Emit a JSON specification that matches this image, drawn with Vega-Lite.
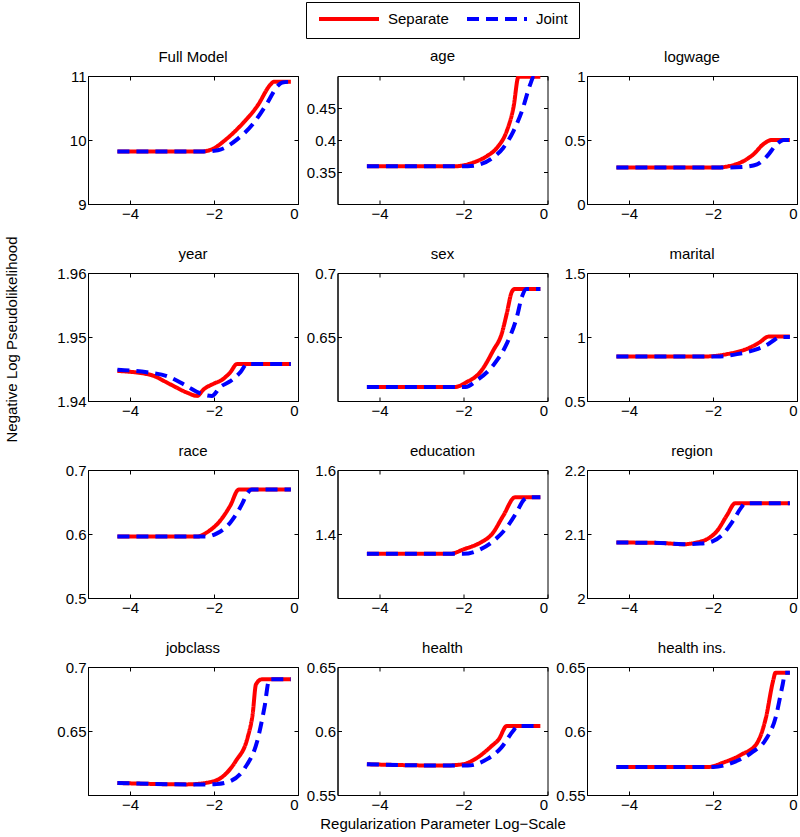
{
"$schema": "https://vega.github.io/schema/vega-lite/v6.json",
"padding": {"left": 5, "top": 1, "right": 2, "bottom": 2},
"title": {"text": "Negative Log Pseudolikelihood", "orient": "left", "anchor": "middle", "offset": 36, "dx": 77, "fontSize": 15, "fontWeight": "normal", "font": "Liberation Sans", "color": "black"},
"datasets": {"d": [
{"p":"Full Model","s":"Separate","x":-4.3,"y":9.82},{"p":"Full Model","s":"Separate","x":-3,"y":9.82},{"p":"Full Model","s":"Separate","x":-2.3,"y":9.82},{"p":"Full Model","s":"Separate","x":-2.0,"y":9.87},{"p":"Full Model","s":"Separate","x":-1.77,"y":9.98},{"p":"Full Model","s":"Separate","x":-1.33,"y":10.25},{"p":"Full Model","s":"Separate","x":-0.97,"y":10.53},{"p":"Full Model","s":"Separate","x":-0.65,"y":10.87},{"p":"Full Model","s":"Separate","x":-0.58,"y":10.91},{"p":"Full Model","s":"Separate","x":-0.17,"y":10.91},
{"p":"age","s":"Separate","x":-4.3,"y":0.359},{"p":"age","s":"Separate","x":-2.2,"y":0.359},{"p":"age","s":"Separate","x":-1.76,"y":0.365},{"p":"age","s":"Separate","x":-1.44,"y":0.375},{"p":"age","s":"Separate","x":-1.2,"y":0.388},{"p":"age","s":"Separate","x":-0.97,"y":0.414},{"p":"age","s":"Separate","x":-0.81,"y":0.451},{"p":"age","s":"Separate","x":-0.69,"y":0.499},{"p":"age","s":"Separate","x":-0.17,"y":0.499},
{"p":"logwage","s":"Separate","x":-4.3,"y":0.285},{"p":"logwage","s":"Separate","x":-1.9,"y":0.285},{"p":"logwage","s":"Separate","x":-1.59,"y":0.298},{"p":"logwage","s":"Separate","x":-1.27,"y":0.336},{"p":"logwage","s":"Separate","x":-1.03,"y":0.39},{"p":"logwage","s":"Separate","x":-0.8,"y":0.468},{"p":"logwage","s":"Separate","x":-0.6,"y":0.5},{"p":"logwage","s":"Separate","x":-0.17,"y":0.5},
{"p":"year","s":"Separate","x":-4.3,"y":1.9447},{"p":"year","s":"Separate","x":-3.52,"y":1.9441},{"p":"year","s":"Separate","x":-3.04,"y":1.9426},{"p":"year","s":"Separate","x":-2.64,"y":1.9413},{"p":"year","s":"Separate","x":-2.4,"y":1.9408},{"p":"year","s":"Separate","x":-2.25,"y":1.9418},{"p":"year","s":"Separate","x":-2.01,"y":1.9427},{"p":"year","s":"Separate","x":-1.81,"y":1.9433},{"p":"year","s":"Separate","x":-1.61,"y":1.9445},{"p":"year","s":"Separate","x":-1.45,"y":1.9458},{"p":"year","s":"Separate","x":-0.17,"y":1.9458},
{"p":"sex","s":"Separate","x":-4.3,"y":0.611},{"p":"sex","s":"Separate","x":-2.2,"y":0.611},{"p":"sex","s":"Separate","x":-1.92,"y":0.6148},{"p":"sex","s":"Separate","x":-1.6,"y":0.6226},{"p":"sex","s":"Separate","x":-1.29,"y":0.6396},{"p":"sex","s":"Separate","x":-1.09,"y":0.6526},{"p":"sex","s":"Separate","x":-0.97,"y":0.6683},{"p":"sex","s":"Separate","x":-0.85,"y":0.6852},{"p":"sex","s":"Separate","x":-0.78,"y":0.6875},{"p":"sex","s":"Separate","x":-0.17,"y":0.6875},
{"p":"marital","s":"Separate","x":-4.3,"y":0.848},{"p":"marital","s":"Separate","x":-2.2,"y":0.848},{"p":"marital","s":"Separate","x":-1.67,"y":0.866},{"p":"marital","s":"Separate","x":-1.11,"y":0.919},{"p":"marital","s":"Separate","x":-0.87,"y":0.963},{"p":"marital","s":"Separate","x":-0.68,"y":1.003},{"p":"marital","s":"Separate","x":-0.17,"y":1.003},
{"p":"race","s":"Separate","x":-4.3,"y":0.596},{"p":"race","s":"Separate","x":-2.4,"y":0.596},{"p":"race","s":"Separate","x":-2.17,"y":0.6025},{"p":"race","s":"Separate","x":-1.85,"y":0.621},{"p":"race","s":"Separate","x":-1.61,"y":0.6447},{"p":"race","s":"Separate","x":-1.41,"y":0.6695},{"p":"race","s":"Separate","x":-0.17,"y":0.6695},
{"p":"education","s":"Separate","x":-4.3,"y":1.338},{"p":"education","s":"Separate","x":-2.32,"y":1.338},{"p":"education","s":"Separate","x":-2.0,"y":1.352},{"p":"education","s":"Separate","x":-1.6,"y":1.373},{"p":"education","s":"Separate","x":-1.32,"y":1.4},{"p":"education","s":"Separate","x":-1.05,"y":1.458},{"p":"education","s":"Separate","x":-0.77,"y":1.515},{"p":"education","s":"Separate","x":-0.17,"y":1.515},
{"p":"region","s":"Separate","x":-4.3,"y":2.0867},{"p":"region","s":"Separate","x":-3.25,"y":2.086},{"p":"region","s":"Separate","x":-2.71,"y":2.084},{"p":"region","s":"Separate","x":-2.39,"y":2.0867},{"p":"region","s":"Separate","x":-2.14,"y":2.092},{"p":"region","s":"Separate","x":-1.9,"y":2.105},{"p":"region","s":"Separate","x":-1.67,"y":2.129},{"p":"region","s":"Separate","x":-1.47,"y":2.148},{"p":"region","s":"Separate","x":-0.17,"y":2.148},
{"p":"jobclass","s":"Separate","x":-4.3,"y":0.6094},{"p":"jobclass","s":"Separate","x":-2.63,"y":0.6083},{"p":"jobclass","s":"Separate","x":-2.17,"y":0.6096},{"p":"jobclass","s":"Separate","x":-1.83,"y":0.6135},{"p":"jobclass","s":"Separate","x":-1.48,"y":0.6266},{"p":"jobclass","s":"Separate","x":-1.2,"y":0.6448},{"p":"jobclass","s":"Separate","x":-1.08,"y":0.663},{"p":"jobclass","s":"Separate","x":-1.0,"y":0.6865},{"p":"jobclass","s":"Separate","x":-0.86,"y":0.6904},{"p":"jobclass","s":"Separate","x":-0.17,"y":0.6904},
{"p":"health","s":"Separate","x":-4.3,"y":0.574},{"p":"health","s":"Separate","x":-2.47,"y":0.573},{"p":"health","s":"Separate","x":-2.02,"y":0.574},{"p":"health","s":"Separate","x":-1.67,"y":0.5792},{"p":"health","s":"Separate","x":-1.33,"y":0.5883},{"p":"health","s":"Separate","x":-1.16,"y":0.5935},{"p":"health","s":"Separate","x":-0.97,"y":0.6039},{"p":"health","s":"Separate","x":-0.17,"y":0.6039},
{"p":"health ins.","s":"Separate","x":-4.3,"y":0.5719},{"p":"health ins.","s":"Separate","x":-2.1,"y":0.5719},{"p":"health ins.","s":"Separate","x":-1.76,"y":0.5753},{"p":"health ins.","s":"Separate","x":-1.31,"y":0.5818},{"p":"health ins.","s":"Separate","x":-0.97,"y":0.5896},{"p":"health ins.","s":"Separate","x":-0.74,"y":0.6104},{"p":"health ins.","s":"Separate","x":-0.57,"y":0.639},{"p":"health ins.","s":"Separate","x":-0.51,"y":0.6456},{"p":"health ins.","s":"Separate","x":-0.17,"y":0.6456},
{"p":"Full Model","s":"Joint","x":-4.3,"y":9.82},{"p":"Full Model","s":"Joint","x":-2.2,"y":9.82},{"p":"Full Model","s":"Joint","x":-2.0,"y":9.83},{"p":"Full Model","s":"Joint","x":-1.85,"y":9.85},{"p":"Full Model","s":"Joint","x":-1.45,"y":10.01},{"p":"Full Model","s":"Joint","x":-1.05,"y":10.27},{"p":"Full Model","s":"Joint","x":-0.73,"y":10.58},{"p":"Full Model","s":"Joint","x":-0.49,"y":10.84},{"p":"Full Model","s":"Joint","x":-0.37,"y":10.9},{"p":"Full Model","s":"Joint","x":-0.17,"y":10.91},
{"p":"age","s":"Joint","x":-4.3,"y":0.359},{"p":"age","s":"Joint","x":-1.9,"y":0.359},{"p":"age","s":"Joint","x":-1.6,"y":0.362},{"p":"age","s":"Joint","x":-1.29,"y":0.373},{"p":"age","s":"Joint","x":-1.05,"y":0.388},{"p":"age","s":"Joint","x":-0.81,"y":0.414},{"p":"age","s":"Joint","x":-0.61,"y":0.445},{"p":"age","s":"Joint","x":-0.41,"y":0.487},{"p":"age","s":"Joint","x":-0.33,"y":0.499},{"p":"age","s":"Joint","x":-0.17,"y":0.499},
{"p":"logwage","s":"Joint","x":-4.3,"y":0.285},{"p":"logwage","s":"Joint","x":-1.67,"y":0.285},{"p":"logwage","s":"Joint","x":-1.27,"y":0.29},{"p":"logwage","s":"Joint","x":-0.95,"y":0.31},{"p":"logwage","s":"Joint","x":-0.71,"y":0.375},{"p":"logwage","s":"Joint","x":-0.48,"y":0.468},{"p":"logwage","s":"Joint","x":-0.32,"y":0.5},{"p":"logwage","s":"Joint","x":-0.17,"y":0.5},
{"p":"year","s":"Joint","x":-4.3,"y":1.9449},{"p":"year","s":"Joint","x":-3.6,"y":1.9445},{"p":"year","s":"Joint","x":-3.12,"y":1.9439},{"p":"year","s":"Joint","x":-2.64,"y":1.9423},{"p":"year","s":"Joint","x":-2.33,"y":1.9412},{"p":"year","s":"Joint","x":-2.05,"y":1.9408},{"p":"year","s":"Joint","x":-1.85,"y":1.9422},{"p":"year","s":"Joint","x":-1.61,"y":1.9431},{"p":"year","s":"Joint","x":-1.37,"y":1.9445},{"p":"year","s":"Joint","x":-1.21,"y":1.9458},{"p":"year","s":"Joint","x":-0.17,"y":1.9458},
{"p":"sex","s":"Joint","x":-4.3,"y":0.611},{"p":"sex","s":"Joint","x":-1.95,"y":0.611},{"p":"sex","s":"Joint","x":-1.68,"y":0.6162},{"p":"sex","s":"Joint","x":-1.29,"y":0.628},{"p":"sex","s":"Joint","x":-0.97,"y":0.6448},{"p":"sex","s":"Joint","x":-0.73,"y":0.6656},{"p":"sex","s":"Joint","x":-0.61,"y":0.6813},{"p":"sex","s":"Joint","x":-0.5,"y":0.6875},{"p":"sex","s":"Joint","x":-0.17,"y":0.6875},
{"p":"marital","s":"Joint","x":-4.3,"y":0.848},{"p":"marital","s":"Joint","x":-1.9,"y":0.848},{"p":"marital","s":"Joint","x":-1.43,"y":0.866},{"p":"marital","s":"Joint","x":-0.95,"y":0.905},{"p":"marital","s":"Joint","x":-0.68,"y":0.945},{"p":"marital","s":"Joint","x":-0.55,"y":0.975},{"p":"marital","s":"Joint","x":-0.4,"y":1.0},{"p":"marital","s":"Joint","x":-0.17,"y":1.0},
{"p":"race","s":"Joint","x":-4.3,"y":0.596},{"p":"race","s":"Joint","x":-2.17,"y":0.596},{"p":"race","s":"Joint","x":-1.93,"y":0.601},{"p":"race","s":"Joint","x":-1.61,"y":0.618},{"p":"race","s":"Joint","x":-1.33,"y":0.647},{"p":"race","s":"Joint","x":-1.21,"y":0.663},{"p":"race","s":"Joint","x":-1.1,"y":0.6695},{"p":"race","s":"Joint","x":-0.17,"y":0.6695},
{"p":"education","s":"Joint","x":-4.3,"y":1.338},{"p":"education","s":"Joint","x":-2.0,"y":1.338},{"p":"education","s":"Joint","x":-1.6,"y":1.352},{"p":"education","s":"Joint","x":-1.29,"y":1.378},{"p":"education","s":"Joint","x":-0.97,"y":1.421},{"p":"education","s":"Joint","x":-0.73,"y":1.469},{"p":"education","s":"Joint","x":-0.57,"y":1.506},{"p":"education","s":"Joint","x":-0.45,"y":1.515},{"p":"education","s":"Joint","x":-0.17,"y":1.515},
{"p":"region","s":"Joint","x":-4.3,"y":2.0867},{"p":"region","s":"Joint","x":-3.25,"y":2.086},{"p":"region","s":"Joint","x":-2.71,"y":2.084},{"p":"region","s":"Joint","x":-2.3,"y":2.085},{"p":"region","s":"Joint","x":-2.0,"y":2.089},{"p":"region","s":"Joint","x":-1.76,"y":2.1},{"p":"region","s":"Joint","x":-1.52,"y":2.121},{"p":"region","s":"Joint","x":-1.32,"y":2.142},{"p":"region","s":"Joint","x":-1.24,"y":2.148},{"p":"region","s":"Joint","x":-0.17,"y":2.148},
{"p":"jobclass","s":"Joint","x":-4.3,"y":0.6094},{"p":"jobclass","s":"Joint","x":-2.63,"y":0.6083},{"p":"jobclass","s":"Joint","x":-2.1,"y":0.6083},{"p":"jobclass","s":"Joint","x":-1.94,"y":0.6085},{"p":"jobclass","s":"Joint","x":-1.6,"y":0.611},{"p":"jobclass","s":"Joint","x":-1.26,"y":0.6214},{"p":"jobclass","s":"Joint","x":-0.97,"y":0.6422},{"p":"jobclass","s":"Joint","x":-0.8,"y":0.6682},{"p":"jobclass","s":"Joint","x":-0.68,"y":0.6904},{"p":"jobclass","s":"Joint","x":-0.17,"y":0.6904},
{"p":"health","s":"Joint","x":-4.3,"y":0.574},{"p":"health","s":"Joint","x":-2.47,"y":0.573},{"p":"health","s":"Joint","x":-1.9,"y":0.573},{"p":"health","s":"Joint","x":-1.44,"y":0.578},{"p":"health","s":"Joint","x":-1.1,"y":0.587},{"p":"health","s":"Joint","x":-0.82,"y":0.6},{"p":"health","s":"Joint","x":-0.71,"y":0.6039},{"p":"health","s":"Joint","x":-0.17,"y":0.6039},
{"p":"health ins.","s":"Joint","x":-4.3,"y":0.5719},{"p":"health ins.","s":"Joint","x":-1.99,"y":0.5719},{"p":"health ins.","s":"Joint","x":-1.53,"y":0.5753},{"p":"health ins.","s":"Joint","x":-1.08,"y":0.5831},{"p":"health ins.","s":"Joint","x":-0.74,"y":0.5935},{"p":"health ins.","s":"Joint","x":-0.51,"y":0.6104},{"p":"health ins.","s":"Joint","x":-0.34,"y":0.6365},{"p":"health ins.","s":"Joint","x":-0.28,"y":0.6456},{"p":"health ins.","s":"Joint","x":-0.17,"y":0.6456}
]},
"columns": 3,
"bounds": "flush",
"spacing": {"row": 69, "column": 39.5},
"resolve": {"scale": {"x": "independent", "y": "independent"}},
"concat": [
{"title": "Full Model", "width": 210, "height": 128, "data": {"name": "d"}, "transform": [{"filter": {"field": "p", "equal": "Full Model"}}],
 "encoding": {"x": {"field": "x", "type": "quantitative", "scale": {"domain": [-5, 0]}, "axis": {"values": [-4, -2, 0], "title": null}},
  "y": {"field": "y", "type": "quantitative", "scale": {"domain": [9, 11], "zero": false}, "axis": {"values": [9, 10, 11], "title": null, "format": "~g"}},
  "color": {"field": "s", "type": "nominal", "scale": {"domain": ["Separate", "Joint"], "range": ["#ff0000", "#0000ff"]}, "legend": {"title": null}},
  "strokeDash": {"field": "s", "type": "nominal", "scale": {"domain": ["Separate", "Joint"], "range": [[1, 0], [12, 7]]}, "legend": {"title": null}}},
 "layer": [{"mark": {"type": "line", "strokeWidth": 4, "clip": true, "interpolate": "monotone"}},
  {"mark": {"type": "line", "opacity": 0}, "encoding": {"x": {"field": "x", "type": "quantitative", "scale": {"domain": [-5, 0]}, "axis": {"orient": "top", "values": [-4, -2, 0], "labels": false, "domain": false, "title": null}}, "y": {"field": "y", "type": "quantitative", "scale": {"domain": [9, 11], "zero": false}, "axis": {"orient": "right", "values": [9, 10, 11], "labels": false, "domain": false, "title": null}}}}],
 "resolve": {"axis": {"x": "independent", "y": "independent"}}},
{"title": {"text": "age", "dy": -7.5}, "width": 210, "height": 128, "data": {"name": "d"}, "transform": [{"filter": {"field": "p", "equal": "age"}}],
 "encoding": {"x": {"field": "x", "type": "quantitative", "scale": {"domain": [-5, 0]}, "axis": {"values": [-4, -2, 0], "title": null}},
  "y": {"field": "y", "type": "quantitative", "scale": {"domain": [0.3, 0.5], "zero": false}, "axis": {"values": [0.35, 0.4, 0.45], "title": null, "format": "~g"}},
  "color": {"field": "s", "type": "nominal", "scale": {"domain": ["Separate", "Joint"], "range": ["#ff0000", "#0000ff"]}, "legend": {"title": null}},
  "strokeDash": {"field": "s", "type": "nominal", "scale": {"domain": ["Separate", "Joint"], "range": [[1, 0], [12, 7]]}, "legend": {"title": null}}},
 "layer": [{"mark": {"type": "line", "strokeWidth": 4, "clip": true, "interpolate": "monotone"}},
  {"mark": {"type": "line", "opacity": 0}, "encoding": {"x": {"field": "x", "type": "quantitative", "scale": {"domain": [-5, 0]}, "axis": {"orient": "top", "values": [-4, -2, 0], "labels": false, "domain": false, "title": null}}, "y": {"field": "y", "type": "quantitative", "scale": {"domain": [0.3, 0.5], "zero": false}, "axis": {"orient": "right", "values": [0.35, 0.4, 0.45], "labels": false, "domain": false, "title": null}}}}],
 "resolve": {"axis": {"x": "independent", "y": "independent"}}},
{"title": "logwage", "width": 210, "height": 128, "data": {"name": "d"}, "transform": [{"filter": {"field": "p", "equal": "logwage"}}],
 "encoding": {"x": {"field": "x", "type": "quantitative", "scale": {"domain": [-5, 0]}, "axis": {"values": [-4, -2, 0], "title": null}},
  "y": {"field": "y", "type": "quantitative", "scale": {"domain": [0, 1], "zero": false}, "axis": {"values": [0, 0.5, 1], "title": null, "format": "~g"}},
  "color": {"field": "s", "type": "nominal", "scale": {"domain": ["Separate", "Joint"], "range": ["#ff0000", "#0000ff"]}, "legend": {"title": null}},
  "strokeDash": {"field": "s", "type": "nominal", "scale": {"domain": ["Separate", "Joint"], "range": [[1, 0], [12, 7]]}, "legend": {"title": null}}},
 "layer": [{"mark": {"type": "line", "strokeWidth": 4, "clip": true, "interpolate": "monotone"}},
  {"mark": {"type": "line", "opacity": 0}, "encoding": {"x": {"field": "x", "type": "quantitative", "scale": {"domain": [-5, 0]}, "axis": {"orient": "top", "values": [-4, -2, 0], "labels": false, "domain": false, "title": null}}, "y": {"field": "y", "type": "quantitative", "scale": {"domain": [0, 1], "zero": false}, "axis": {"orient": "right", "values": [0, 0.5, 1], "labels": false, "domain": false, "title": null}}}}],
 "resolve": {"axis": {"x": "independent", "y": "independent"}}},
{"title": "year", "width": 210, "height": 128, "data": {"name": "d"}, "transform": [{"filter": {"field": "p", "equal": "year"}}],
 "encoding": {"x": {"field": "x", "type": "quantitative", "scale": {"domain": [-5, 0]}, "axis": {"values": [-4, -2, 0], "title": null}},
  "y": {"field": "y", "type": "quantitative", "scale": {"domain": [1.94, 1.96], "zero": false}, "axis": {"values": [1.94, 1.95, 1.96], "title": null, "format": "~g"}},
  "color": {"field": "s", "type": "nominal", "scale": {"domain": ["Separate", "Joint"], "range": ["#ff0000", "#0000ff"]}, "legend": {"title": null}},
  "strokeDash": {"field": "s", "type": "nominal", "scale": {"domain": ["Separate", "Joint"], "range": [[1, 0], [12, 7]]}, "legend": {"title": null}}},
 "layer": [{"mark": {"type": "line", "strokeWidth": 4, "clip": true, "interpolate": "monotone"}},
  {"mark": {"type": "line", "opacity": 0}, "encoding": {"x": {"field": "x", "type": "quantitative", "scale": {"domain": [-5, 0]}, "axis": {"orient": "top", "values": [-4, -2, 0], "labels": false, "domain": false, "title": null}}, "y": {"field": "y", "type": "quantitative", "scale": {"domain": [1.94, 1.96], "zero": false}, "axis": {"orient": "right", "values": [1.94, 1.95, 1.96], "labels": false, "domain": false, "title": null}}}}],
 "resolve": {"axis": {"x": "independent", "y": "independent"}}},
{"title": "sex", "width": 210, "height": 128, "data": {"name": "d"}, "transform": [{"filter": {"field": "p", "equal": "sex"}}],
 "encoding": {"x": {"field": "x", "type": "quantitative", "scale": {"domain": [-5, 0]}, "axis": {"values": [-4, -2, 0], "title": null}},
  "y": {"field": "y", "type": "quantitative", "scale": {"domain": [0.6, 0.7], "zero": false}, "axis": {"values": [0.65, 0.7], "title": null, "format": "~g"}},
  "color": {"field": "s", "type": "nominal", "scale": {"domain": ["Separate", "Joint"], "range": ["#ff0000", "#0000ff"]}, "legend": {"title": null}},
  "strokeDash": {"field": "s", "type": "nominal", "scale": {"domain": ["Separate", "Joint"], "range": [[1, 0], [12, 7]]}, "legend": {"title": null}}},
 "layer": [{"mark": {"type": "line", "strokeWidth": 4, "clip": true, "interpolate": "monotone"}},
  {"mark": {"type": "line", "opacity": 0}, "encoding": {"x": {"field": "x", "type": "quantitative", "scale": {"domain": [-5, 0]}, "axis": {"orient": "top", "values": [-4, -2, 0], "labels": false, "domain": false, "title": null}}, "y": {"field": "y", "type": "quantitative", "scale": {"domain": [0.6, 0.7], "zero": false}, "axis": {"orient": "right", "values": [0.65, 0.7], "labels": false, "domain": false, "title": null}}}}],
 "resolve": {"axis": {"x": "independent", "y": "independent"}}},
{"title": "marital", "width": 210, "height": 128, "data": {"name": "d"}, "transform": [{"filter": {"field": "p", "equal": "marital"}}],
 "encoding": {"x": {"field": "x", "type": "quantitative", "scale": {"domain": [-5, 0]}, "axis": {"values": [-4, -2, 0], "title": null}},
  "y": {"field": "y", "type": "quantitative", "scale": {"domain": [0.5, 1.5], "zero": false}, "axis": {"values": [0.5, 1, 1.5], "title": null, "format": "~g"}},
  "color": {"field": "s", "type": "nominal", "scale": {"domain": ["Separate", "Joint"], "range": ["#ff0000", "#0000ff"]}, "legend": {"title": null}},
  "strokeDash": {"field": "s", "type": "nominal", "scale": {"domain": ["Separate", "Joint"], "range": [[1, 0], [12, 7]]}, "legend": {"title": null}}},
 "layer": [{"mark": {"type": "line", "strokeWidth": 4, "clip": true, "interpolate": "monotone"}},
  {"mark": {"type": "line", "opacity": 0}, "encoding": {"x": {"field": "x", "type": "quantitative", "scale": {"domain": [-5, 0]}, "axis": {"orient": "top", "values": [-4, -2, 0], "labels": false, "domain": false, "title": null}}, "y": {"field": "y", "type": "quantitative", "scale": {"domain": [0.5, 1.5], "zero": false}, "axis": {"orient": "right", "values": [0.5, 1, 1.5], "labels": false, "domain": false, "title": null}}}}],
 "resolve": {"axis": {"x": "independent", "y": "independent"}}},
{"title": "race", "width": 210, "height": 128, "data": {"name": "d"}, "transform": [{"filter": {"field": "p", "equal": "race"}}],
 "encoding": {"x": {"field": "x", "type": "quantitative", "scale": {"domain": [-5, 0]}, "axis": {"values": [-4, -2, 0], "title": null}},
  "y": {"field": "y", "type": "quantitative", "scale": {"domain": [0.5, 0.7], "zero": false}, "axis": {"values": [0.5, 0.6, 0.7], "title": null, "format": "~g"}},
  "color": {"field": "s", "type": "nominal", "scale": {"domain": ["Separate", "Joint"], "range": ["#ff0000", "#0000ff"]}, "legend": {"title": null}},
  "strokeDash": {"field": "s", "type": "nominal", "scale": {"domain": ["Separate", "Joint"], "range": [[1, 0], [12, 7]]}, "legend": {"title": null}}},
 "layer": [{"mark": {"type": "line", "strokeWidth": 4, "clip": true, "interpolate": "monotone"}},
  {"mark": {"type": "line", "opacity": 0}, "encoding": {"x": {"field": "x", "type": "quantitative", "scale": {"domain": [-5, 0]}, "axis": {"orient": "top", "values": [-4, -2, 0], "labels": false, "domain": false, "title": null}}, "y": {"field": "y", "type": "quantitative", "scale": {"domain": [0.5, 0.7], "zero": false}, "axis": {"orient": "right", "values": [0.5, 0.6, 0.7], "labels": false, "domain": false, "title": null}}}}],
 "resolve": {"axis": {"x": "independent", "y": "independent"}}},
{"title": "education", "width": 210, "height": 128, "data": {"name": "d"}, "transform": [{"filter": {"field": "p", "equal": "education"}}],
 "encoding": {"x": {"field": "x", "type": "quantitative", "scale": {"domain": [-5, 0]}, "axis": {"values": [-4, -2, 0], "title": null}},
  "y": {"field": "y", "type": "quantitative", "scale": {"domain": [1.2, 1.6], "zero": false}, "axis": {"values": [1.4, 1.6], "title": null, "format": "~g"}},
  "color": {"field": "s", "type": "nominal", "scale": {"domain": ["Separate", "Joint"], "range": ["#ff0000", "#0000ff"]}, "legend": {"title": null}},
  "strokeDash": {"field": "s", "type": "nominal", "scale": {"domain": ["Separate", "Joint"], "range": [[1, 0], [12, 7]]}, "legend": {"title": null}}},
 "layer": [{"mark": {"type": "line", "strokeWidth": 4, "clip": true, "interpolate": "monotone"}},
  {"mark": {"type": "line", "opacity": 0}, "encoding": {"x": {"field": "x", "type": "quantitative", "scale": {"domain": [-5, 0]}, "axis": {"orient": "top", "values": [-4, -2, 0], "labels": false, "domain": false, "title": null}}, "y": {"field": "y", "type": "quantitative", "scale": {"domain": [1.2, 1.6], "zero": false}, "axis": {"orient": "right", "values": [1.4, 1.6], "labels": false, "domain": false, "title": null}}}}],
 "resolve": {"axis": {"x": "independent", "y": "independent"}}},
{"title": "region", "width": 210, "height": 128, "data": {"name": "d"}, "transform": [{"filter": {"field": "p", "equal": "region"}}],
 "encoding": {"x": {"field": "x", "type": "quantitative", "scale": {"domain": [-5, 0]}, "axis": {"values": [-4, -2, 0], "title": null}},
  "y": {"field": "y", "type": "quantitative", "scale": {"domain": [2.0, 2.2], "zero": false}, "axis": {"values": [2, 2.1, 2.2], "title": null, "format": "~g"}},
  "color": {"field": "s", "type": "nominal", "scale": {"domain": ["Separate", "Joint"], "range": ["#ff0000", "#0000ff"]}, "legend": {"title": null}},
  "strokeDash": {"field": "s", "type": "nominal", "scale": {"domain": ["Separate", "Joint"], "range": [[1, 0], [12, 7]]}, "legend": {"title": null}}},
 "layer": [{"mark": {"type": "line", "strokeWidth": 4, "clip": true, "interpolate": "monotone"}},
  {"mark": {"type": "line", "opacity": 0}, "encoding": {"x": {"field": "x", "type": "quantitative", "scale": {"domain": [-5, 0]}, "axis": {"orient": "top", "values": [-4, -2, 0], "labels": false, "domain": false, "title": null}}, "y": {"field": "y", "type": "quantitative", "scale": {"domain": [2.0, 2.2], "zero": false}, "axis": {"orient": "right", "values": [2, 2.1, 2.2], "labels": false, "domain": false, "title": null}}}}],
 "resolve": {"axis": {"x": "independent", "y": "independent"}}},
{"title": "jobclass", "width": 210, "height": 128, "data": {"name": "d"}, "transform": [{"filter": {"field": "p", "equal": "jobclass"}}],
 "encoding": {"x": {"field": "x", "type": "quantitative", "scale": {"domain": [-5, 0]}, "axis": {"values": [-4, -2, 0], "title": null}},
  "y": {"field": "y", "type": "quantitative", "scale": {"domain": [0.6, 0.7], "zero": false}, "axis": {"values": [0.65, 0.7], "title": null, "format": "~g"}},
  "color": {"field": "s", "type": "nominal", "scale": {"domain": ["Separate", "Joint"], "range": ["#ff0000", "#0000ff"]}, "legend": {"title": null}},
  "strokeDash": {"field": "s", "type": "nominal", "scale": {"domain": ["Separate", "Joint"], "range": [[1, 0], [12, 7]]}, "legend": {"title": null}}},
 "layer": [{"mark": {"type": "line", "strokeWidth": 4, "clip": true, "interpolate": "monotone"}},
  {"mark": {"type": "line", "opacity": 0}, "encoding": {"x": {"field": "x", "type": "quantitative", "scale": {"domain": [-5, 0]}, "axis": {"orient": "top", "values": [-4, -2, 0], "labels": false, "domain": false, "title": null}}, "y": {"field": "y", "type": "quantitative", "scale": {"domain": [0.6, 0.7], "zero": false}, "axis": {"orient": "right", "values": [0.65, 0.7], "labels": false, "domain": false, "title": null}}}}],
 "resolve": {"axis": {"x": "independent", "y": "independent"}}},
{"title": "health", "width": 210, "height": 128, "data": {"name": "d"}, "transform": [{"filter": {"field": "p", "equal": "health"}}],
 "encoding": {"x": {"field": "x", "type": "quantitative", "scale": {"domain": [-5, 0]}, "axis": {"values": [-4, -2, 0], "title": "Regularization Parameter Log−Scale"}},
  "y": {"field": "y", "type": "quantitative", "scale": {"domain": [0.55, 0.65], "zero": false}, "axis": {"values": [0.55, 0.6, 0.65], "title": null, "format": "~g"}},
  "color": {"field": "s", "type": "nominal", "scale": {"domain": ["Separate", "Joint"], "range": ["#ff0000", "#0000ff"]}, "legend": {"title": null}},
  "strokeDash": {"field": "s", "type": "nominal", "scale": {"domain": ["Separate", "Joint"], "range": [[1, 0], [12, 7]]}, "legend": {"title": null}}},
 "layer": [{"mark": {"type": "line", "strokeWidth": 4, "clip": true, "interpolate": "monotone"}},
  {"mark": {"type": "line", "opacity": 0}, "encoding": {"x": {"field": "x", "type": "quantitative", "scale": {"domain": [-5, 0]}, "axis": {"orient": "top", "values": [-4, -2, 0], "labels": false, "domain": false, "title": null}}, "y": {"field": "y", "type": "quantitative", "scale": {"domain": [0.55, 0.65], "zero": false}, "axis": {"orient": "right", "values": [0.55, 0.6, 0.65], "labels": false, "domain": false, "title": null}}}}],
 "resolve": {"axis": {"x": "independent", "y": "independent"}}},
{"title": "health ins.", "width": 210, "height": 128, "data": {"name": "d"}, "transform": [{"filter": {"field": "p", "equal": "health ins."}}],
 "encoding": {"x": {"field": "x", "type": "quantitative", "scale": {"domain": [-5, 0]}, "axis": {"values": [-4, -2, 0], "title": null}},
  "y": {"field": "y", "type": "quantitative", "scale": {"domain": [0.55, 0.65], "zero": false}, "axis": {"values": [0.55, 0.6, 0.65], "title": null, "format": "~g"}},
  "color": {"field": "s", "type": "nominal", "scale": {"domain": ["Separate", "Joint"], "range": ["#ff0000", "#0000ff"]}, "legend": {"title": null}},
  "strokeDash": {"field": "s", "type": "nominal", "scale": {"domain": ["Separate", "Joint"], "range": [[1, 0], [12, 7]]}, "legend": {"title": null}}},
 "layer": [{"mark": {"type": "line", "strokeWidth": 4, "clip": true, "interpolate": "monotone"}},
  {"mark": {"type": "line", "opacity": 0}, "encoding": {"x": {"field": "x", "type": "quantitative", "scale": {"domain": [-5, 0]}, "axis": {"orient": "top", "values": [-4, -2, 0], "labels": false, "domain": false, "title": null}}, "y": {"field": "y", "type": "quantitative", "scale": {"domain": [0.55, 0.65], "zero": false}, "axis": {"orient": "right", "values": [0.55, 0.6, 0.65], "labels": false, "domain": false, "title": null}}}}],
 "resolve": {"axis": {"x": "independent", "y": "independent"}}}
],
"config": {
 "font": "Liberation Sans",
 "view": {"stroke": "black", "strokeWidth": 1},
 "axis": {"grid": false, "domainColor": "black", "domainWidth": 1, "tickColor": "black", "tickSize": -4, "labelPadding": 6, "labelFontSize": 15, "labelColor": "black", "titleFontSize": 15, "titleFontWeight": "normal", "titleColor": "black", "titlePadding": 4},
 "title": {"fontSize": 15, "fontWeight": "normal", "offset": 4, "color": "black", "anchor": "middle"},
 "legend": {"orient": "none", "legendX": 218, "legendY": -74, "direction": "horizontal", "strokeColor": "black", "strokeWidth": 1, "fillColor": "white", "padding": 11, "clipHeight": 12, "symbolType": "stroke", "symbolSize": 3600, "symbolStrokeWidth": 4, "labelFontSize": 15, "labelColor": "black", "labelOffset": 7, "columnPadding": 16}
}
}
